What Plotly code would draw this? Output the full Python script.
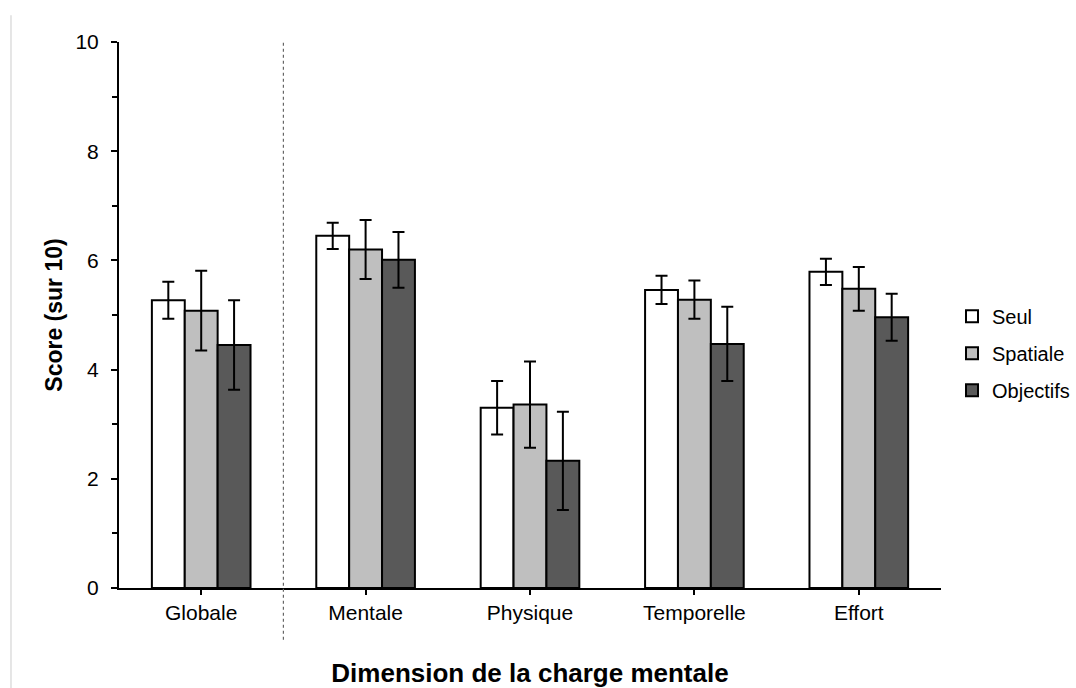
import plotly.graph_objects as go

categories = ["Globale", "Mentale", "Physique", "Temporelle", "Effort"]
series_names = ["Seul", "Spatiale", "Objectifs"]
seul = [5.27, 6.45, 3.30, 5.46, 5.79]
seul_err = [0.34, 0.24, 0.49, 0.26, 0.24]
spatiale = [5.08, 6.20, 3.36, 5.28, 5.48]
spatiale_err = [0.73, 0.54, 0.79, 0.35, 0.40]
objectifs = [4.45, 6.01, 2.33, 4.47, 4.96]
objectifs_err = [0.82, 0.51, 0.90, 0.68, 0.43]
colors = ["#ffffff", "#bfbfbf", "#595959"]

values = [seul, spatiale, objectifs]
errors = [seul_err, spatiale_err, objectifs_err]

FONT = "Liberation Sans, Arial, sans-serif"

fig = go.Figure()
for name, v, e, c in zip(series_names, values, errors, colors):
    fig.add_trace(go.Bar(
        x=categories, y=v, name=name, legendgroup=name,
        marker=dict(color=c, line=dict(color="black", width=2)),
        error_y=dict(type="data", array=e, visible=True, color="black",
                     thickness=2, width=6),
    ))

fig.update_layout(
    width=1076, height=688,
    margin=dict(l=119, r=135, t=42, b=100, autoexpand=False),
    paper_bgcolor="white", plot_bgcolor="white",
    barmode="group", bargap=0.4, bargroupgap=0,
    font=dict(family=FONT, size=20, color="black"),
    showlegend=True,
    legend=dict(x=1.0134, y=0.43, xanchor="left", yanchor="middle",
                font=dict(family=FONT, size=20, color="black"),
                tracegroupgap=8, itemwidth=30),
    xaxis=dict(
        type="category", range=[-0.5, 4.5], automargin=False,
        showline=True, linecolor="black", linewidth=2,
        ticks="outside", ticklen=5, tickwidth=2, tickcolor="black",
        ticklabelstandoff=0,
        tickfont=dict(family=FONT, size=21, color="black"),
        title=dict(text="<b>Dimension de la charge mentale</b>",
                   font=dict(family=FONT, size=26, color="black"), standoff=51),
        showgrid=False, zeroline=False,
    ),
    yaxis=dict(
        range=[0, 10], dtick=2, tick0=0, automargin=False,
        showline=True, linecolor="black", linewidth=2,
        ticks="outside", ticklen=6, tickwidth=2, tickcolor="black",
        ticklabelstandoff=8,
        minor=dict(dtick=1, ticks="outside", ticklen=5, tickwidth=1.5, tickcolor="black"),
        tickfont=dict(family=FONT, size=21, color="black"),
        title=dict(text="<b>Score (sur 10)</b>",
                   font=dict(family=FONT, size=23, color="black"), standoff=6),
        showgrid=False, zeroline=False,
    ),
    shapes=[
        dict(type="line", xref="x", yref="paper", x0=0.5, x1=0.5, y0=-0.095, y1=1.0,
             line=dict(color="#666666", width=1.2, dash="3px,3px")),
        dict(type="line", xref="paper", yref="paper", x0=-0.1314, x1=-0.1314, y0=-0.19, y1=1.049,
             line=dict(color="#cccccc", width=1)),
    ],
)

fig.write_html("out.html", config={"displayModeBar": False},
               post_script="document.body.style.margin='0px';")
